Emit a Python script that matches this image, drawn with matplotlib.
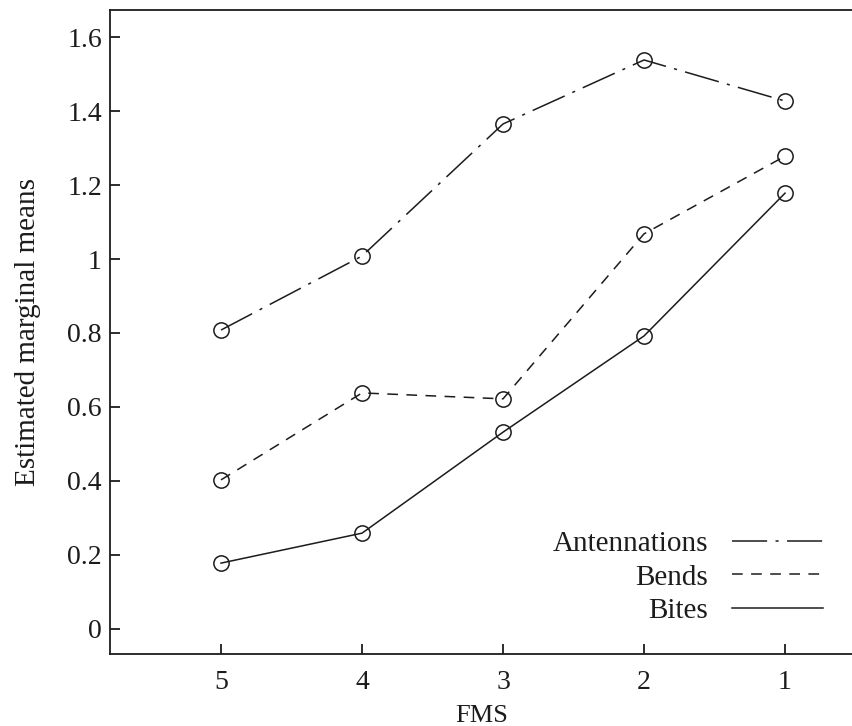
import matplotlib
matplotlib.use("Agg")
import matplotlib.pyplot as plt
from matplotlib.ticker import FuncFormatter

plt.rcParams['font.family'] = ['Liberation Serif', 'DejaVu Serif']

# FMS levels, plotted from 5 down to 1
fms = [5, 4, 3, 2, 1]
antennations = [0.808, 1.008, 1.365, 1.538, 1.427]
bends = [0.403, 0.638, 0.622, 1.068, 1.278]
bites = [0.178, 0.259, 0.532, 0.792, 1.178]

ink = '#1c1c1c'

fig = plt.figure(figsize=(8.53, 7.26), dpi=100)
ax = fig.add_axes([0.129, 0.0992, 0.871, 0.887])

style = dict(color=ink, lw=1.1, marker='o', markersize=11,
             markerfacecolor='none', markeredgecolor=ink, markeredgewidth=1.1)
ax.plot(fms, antennations, dashes=(23, 5.5, 2, 5.5), label='Antennations', **style)
ax.plot(fms, bends, dashes=(7, 5.5), label='Bends', **style)
ax.plot(fms, bites, label='Bites', **style)

ax.set_xlim(5.787, 0.518)
ax.set_ylim(-0.0676, 1.673)
ax.set_xticks(fms)
ax.set_yticks([0, 0.2, 0.4, 0.6, 0.8, 1.0, 1.2, 1.4, 1.6])
ax.yaxis.set_major_formatter(FuncFormatter(lambda v, p: '%g' % round(v, 2)))

ax.spines['right'].set_visible(False)
for s in ('left', 'top', 'bottom'):
    ax.spines[s].set_linewidth(1.3)
    ax.spines[s].set_color(ink)

ax.tick_params(axis='both', direction='in', length=7.5, width=1.3,
               color=ink, labelcolor=ink, labelsize=20)
ax.tick_params(axis='y', pad=5.8)
ax.tick_params(axis='x', pad=11.5)
ax.tick_params(top=False, right=False)

ax.set_xlabel('FMS', fontsize=19, color=ink, labelpad=7)
ax.set_ylabel('Estimated marginal means', fontsize=21, color=ink, labelpad=19)

leg = ax.legend(loc='lower right', bbox_to_anchor=(0.9596, 0.047),
                frameon=False, markerfirst=False, fontsize=21,
                handlelength=3.12, handletextpad=0.82, labelspacing=0.23,
                borderpad=0, borderaxespad=0)
for h in leg.legend_handles:
    h.set_marker('')
for t in leg.get_texts():
    t.set_color(ink)

fig.savefig('out.png', dpi=100)
